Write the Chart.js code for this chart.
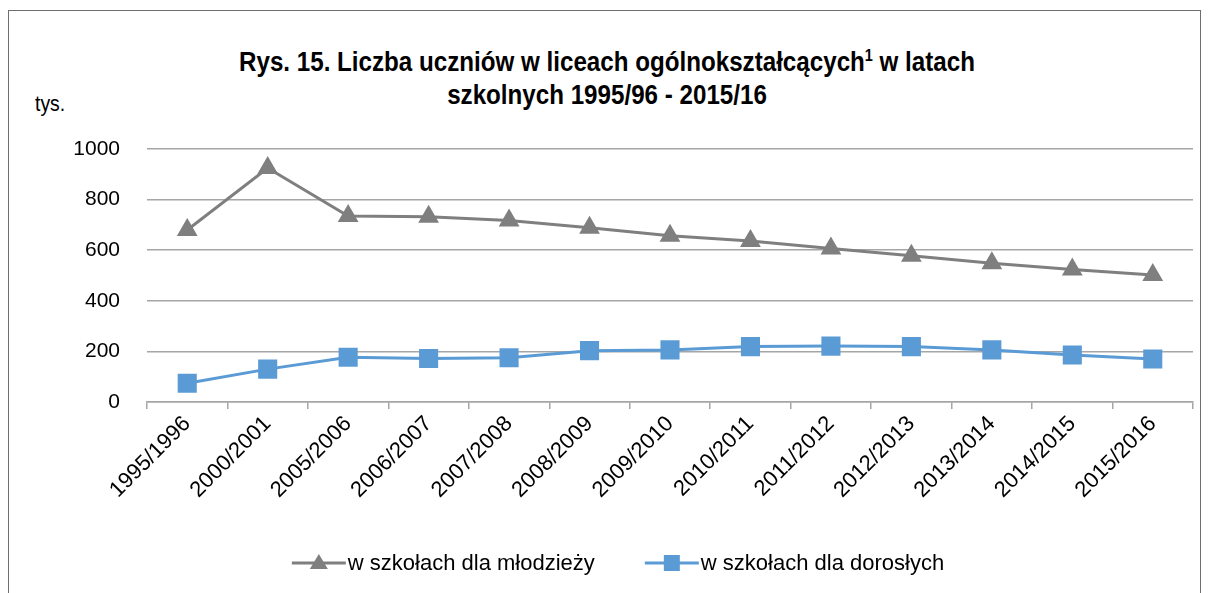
<!DOCTYPE html>
<html>
<head>
<meta charset="utf-8">
<script src="https://cdn.jsdelivr.net/npm/chart.js@4"></script>
<style>
  html, body { margin: 0; padding: 0; background: #fff; }
  body { width: 1209px; height: 593px; position: relative; overflow: hidden; }
  #frame { position: absolute; left: 8px; top: 10px; width: 1191px; height: 600px; border: 1px solid #6e6e6e; }
  #title { position: absolute; left: 0; top: 46px; width: 1214px; text-align: center;
    font: bold 27px 'Liberation Sans', Arial, sans-serif; line-height: 33px; color: #000;
    transform: scaleX(0.895); transform-origin: 607px 0; }
  #title sup { font-size: 60%; line-height: 0; vertical-align: 0.6em; }
  #unit { position: absolute; left: 35px; top: 91px; font: 22px 'Liberation Sans', Arial, sans-serif;
    transform: scaleX(0.88); transform-origin: 0 0; }
  canvas { position: absolute; left: 0; top: 0; }
</style>
</head>
<body>
<div id="frame"></div>
<div id="title">Rys. 15. Liczba uczniów w liceach ogólnokształcących<sup>1</sup> w latach<br>szkolnych 1995/96 - 2015/16</div>
<div id="unit">tys.</div>
<canvas id="chart" width="1209" height="593"></canvas>
<script>
const years = ['1995/1996', '2000/2001', '2005/2006', '2006/2007', '2007/2008', '2008/2009',
  '2009/2010', '2010/2011', '2011/2012', '2012/2013', '2013/2014', '2014/2015', '2015/2016'];
const youth = [680, 925, 735, 732, 717, 689, 657, 636, 607, 578, 548, 524, 502];
const adults = [74, 130, 177, 172, 175, 203, 206, 219, 221, 219, 206, 186, 170];
const seriesNames = ['w szkołach dla młodzieży', 'w szkołach dla dorosłych'];
const yTicks = [0, 200, 400, 600, 800, 1000];

const FONT = "'Liberation Sans', Arial, sans-serif";

// legend drawn Excel-style: line with marker through it
const lineLegend = {
  id: 'lineLegend',
  afterDraw(chart) {
    const ctx = chart.ctx;
    ctx.save();
    ctx.font = '22px ' + FONT;
    ctx.textBaseline = 'middle';
    const sets = chart.data.datasets;
    const lineW = 54, gap = 2, between = 50;
    let total = 0;
    sets.forEach((ds, i) => {
      total += lineW + gap + ctx.measureText(ds.label).width + (i ? between : 0);
    });
    let x = 618 - total / 2;
    const y = 563;
    sets.forEach((ds) => {
      ctx.strokeStyle = ds.borderColor;
      ctx.lineWidth = 3;
      ctx.beginPath();
      ctx.moveTo(x, y);
      ctx.lineTo(x + lineW, y);
      ctx.stroke();
      ctx.fillStyle = ds.backgroundColor;
      const cx = x + lineW / 2;
      if (ds.pointStyle === 'triangle') {
        ctx.beginPath();
        ctx.moveTo(cx, y - 9);
        ctx.lineTo(cx + 9, y + 6);
        ctx.lineTo(cx - 9, y + 6);
        ctx.closePath();
        ctx.fill();
      } else {
        ctx.fillRect(cx - 8, y - 8, 16, 16);
      }
      ctx.fillStyle = '#000';
      ctx.fillText(ds.label, x + lineW + gap, y + 1);
      x += lineW + gap + ctx.measureText(ds.label).width + between;
    });
    ctx.restore();
  }
};

new Chart(document.getElementById('chart'), {
  type: 'line',
  data: {
    labels: years,
    datasets: [
      {
        label: seriesNames[0],
        data: youth,
        borderColor: '#7f7f7f',
        backgroundColor: '#7f7f7f',
        borderWidth: 3,
        pointStyle: 'triangle',
        pointRadius: 12,
        pointBorderWidth: 0,
        tension: 0
      },
      {
        label: seriesNames[1],
        data: adults,
        borderColor: '#5b9bd5',
        backgroundColor: '#5b9bd5',
        borderWidth: 3,
        pointStyle: 'rect',
        pointRadius: 13.5,
        pointBorderWidth: 0,
        tension: 0
      }
    ]
  },
  options: {
    responsive: false,
    animation: false,
    layout: { padding: { top: 149, right: 16, left: 0, bottom: 0 } },
    plugins: {
      legend: { display: false },
      title: { display: false },
      tooltip: { enabled: false }
    },
    scales: {
      x: {
        offset: true,
        grid: { offset: true, drawOnChartArea: false, drawTicks: true, tickLength: 7, color: '#a6a6a6', lineWidth: 1.5 },
        border: { display: true, color: '#a6a6a6', width: 1.5 },
        ticks: {
          color: '#000',
          font: { family: FONT, size: 22 },
          minRotation: 45,
          maxRotation: 45,
          autoSkip: false,
          padding: 2
        },
        afterFit(scale) { scale.height = 191; }
      },
      y: {
        min: 0,
        max: 1000,
        afterBuildTicks(scale) { scale.ticks = yTicks.map(v => ({ value: v })); },
        grid: { color: '#a6a6a6', lineWidth: 1.5, drawTicks: false },
        border: { display: false },
        ticks: {
          color: '#000',
          font: { family: FONT, size: 21 },
          padding: 27,
          callback: (v) => String(v)
        },
        afterFit(scale) { scale.width = 147; }
      }
    }
  },
  plugins: [lineLegend]
});
</script>
</body>
</html>
